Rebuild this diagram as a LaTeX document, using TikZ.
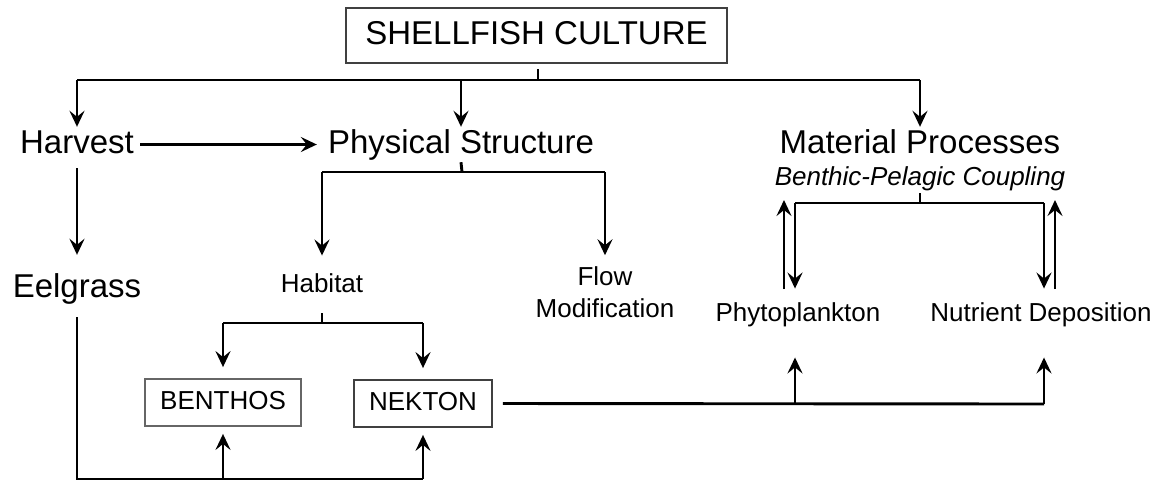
\documentclass[tikz,border=0pt]{standalone}
\usepackage{fontspec}
\setmainfont{Liberation Sans}
\usepackage{tikz}
\usetikzlibrary{arrows.meta,calc}

\tikzset{
  link/.style={line width=2.9pt},
  arr/.style={link,-{Stealth[length=16pt,width=15pt,inset=6pt]}},
  big/.style={font=\fontsize{33}{38}\selectfont, inner sep=2pt, text height=24pt, text depth=7pt},
  small/.style={font=\fontsize{26}{32}\selectfont, inner sep=2pt, text height=19pt, text depth=5.5pt},
  box/.style={draw=black!75, line width=1.8pt, minimum height=47pt, inner sep=0pt}
}

\begin{document}
\begin{tikzpicture}[x=1pt,y=-1pt]
\useasboundingbox (0,0) rectangle (1159,483);
% nodes
\node[big, box, minimum width=381pt, minimum height=55pt] (sc) at (536.5,35.5) {SHELLFISH CULTURE};
\node[big] (harvest) at (77,144.5) {Harvest};
\node[big] (phys) at (461,144.5) {Physical Structure};
\node[big] (mat) at (920,144.5) {Material Processes};
\node[small, font=\fontsize{26}{32}\selectfont\itshape] (bpc) at (920,179) {Benthic-Pelagic Coupling};
\node[big] (eel) at (77,288.5) {Eelgrass};
\node[small] (hab) at (322,286) {Habitat};
\node[font=\fontsize{26}{32}\selectfont, align=center, inner sep=2pt] (flow) at (605,292) {Flow\\Modification};
\node[small] (phyto) at (798,315) {Phytoplankton};
\node[small] (nutr) at (1041,315) {Nutrient Deposition};
\node[small, box, draw=black!60, minimum width=156pt] (benthos) at (223,402.5) {BENTHOS};
\node[small, box, minimum width=138pt] (nekton) at (423,403.5) {NEKTON};
% bars
\coordinate (tb) at (538,80);
\coordinate (pb) at (462,172);
\coordinate (hb) at (322,323);
\coordinate (eb) at (75,479);
\coordinate (nb) at (1044,404);
\coordinate (pl) at (795,203);
\coordinate (pr) at (1044,203);
\coordinate (pu) at (784,289);
\coordinate (nu) at (1055,289);
% top level
\draw[link] (tb) -- ++(0,-11);
\draw[link] (harvest |- tb) -- (mat |- tb);
\foreach \n in {harvest,phys,mat}{
\draw[arr] (\n |- tb) -- (\n.north);}
\draw[arr, shorten <=4pt, shorten >=9pt] (harvest) -- (phys);
\draw[arr, shorten <=6pt, shorten >=16pt] (harvest) -- (eel);
% physical structure
\draw[link] (phys.south) -- (pb);
\draw[link] (hab |- pb) -- (flow |- pb);
\draw[arr, shorten >=16pt] (hab |- pb) -- (hab.north);
\draw[arr, shorten >=9pt] (flow |- pb) -- (flow.north);
% habitat
\draw[link] (hb) -- ++(0,-10);
\draw[link] (benthos |- hb) -- (nekton |- hb);
\foreach \n in {benthos,nekton}{
\draw[arr, shorten >=11pt] (\n |- hb) -- (\n.north);}
% eelgrass
\draw[link, shorten <=11pt] (eel.south) -- (eel |- eb) -- (nekton |- eb);
\foreach \n in {benthos,nekton}{
\draw[arr, shorten >=7pt] (\n |- eb) -- (\n.south);}
% nekton
\draw[link, shorten <=10pt] (nekton.east) -- (nb);
\draw[arr, shorten >=28pt] (pl |- nb) -- (pl |- phyto.south);
\draw[arr, shorten >=28pt] (nb) -- (nb |- nutr.south);
% material processes
\draw[link] (bpc.south) -- (bpc.south |- pl);
\draw[link] (pl) -- (pr);
\draw[arr, shorten >=12pt] (pl) -- (pl |- phyto.north);
\draw[arr, shorten >=12pt] (pr) -- (pr |- nutr.north);
\draw[arr] (pu) -- ++(0,-89);
\draw[arr] (nu) -- ++(0,-89);
\end{tikzpicture}
\end{document}
